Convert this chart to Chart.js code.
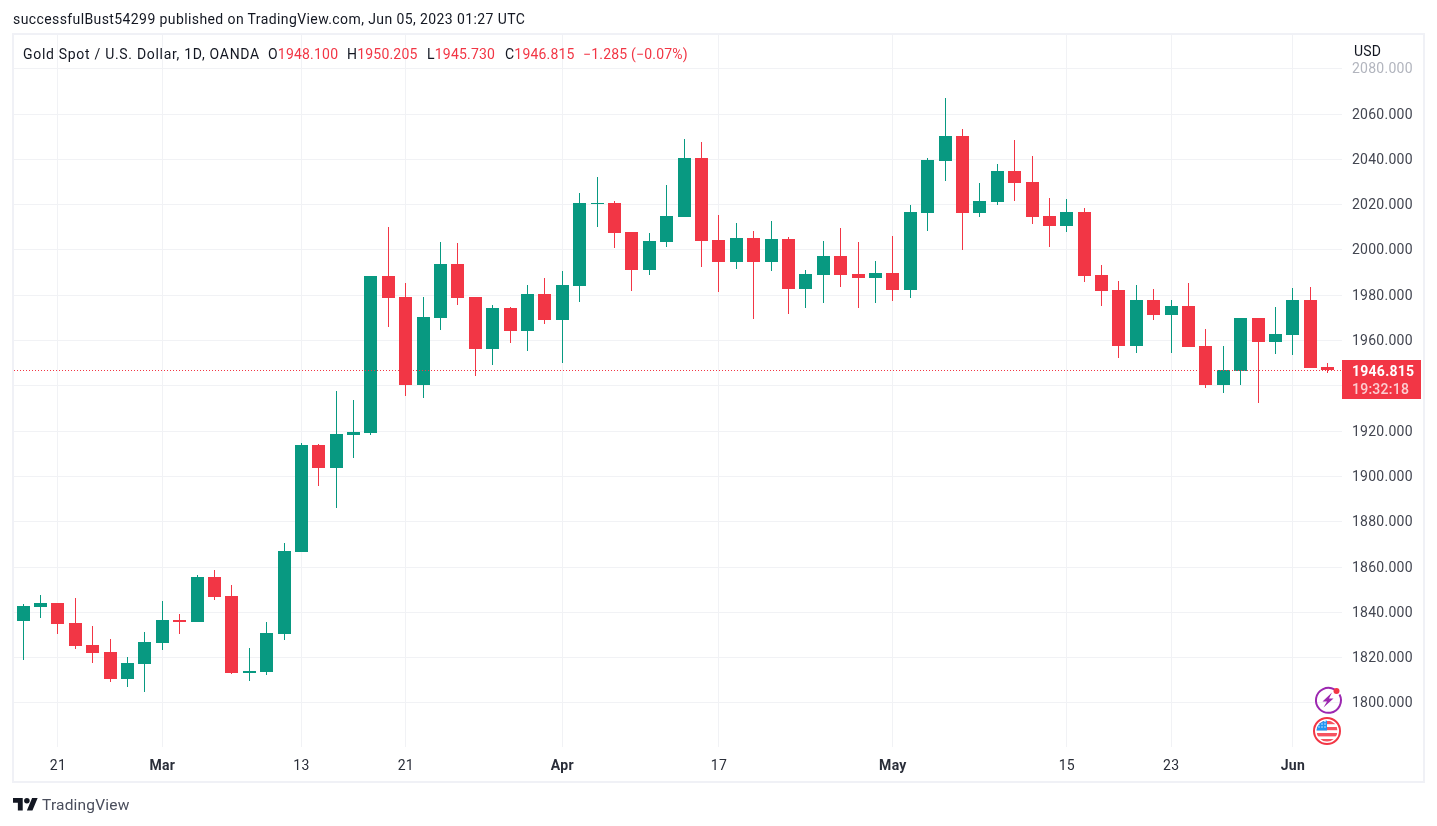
<!DOCTYPE html>
<html>
<head>
<meta charset="utf-8">
<title>Gold Spot / U.S. Dollar</title>
<script src="https://cdn.jsdelivr.net/npm/chart.js@4"></script>
<style>
  html, body { margin: 0; padding: 0; background: #fff; width: 1437px; height: 826px; overflow: hidden; }
  #wrap { position: relative; width: 1437px; height: 826px; font-family: Roboto, sans-serif; font-size: 14px; color: #131722; }
  canvas { position: absolute; left: 0; top: 0; }
  .t { position: absolute; white-space: nowrap; line-height: 18px; letter-spacing: 0.2px; }
  .r { color: #F23645; }
  #frame { position: absolute; left: 12px; top: 33px; width: 1409px; height: 746px; border: 2px solid #f0f1f6; }
  svg { position: absolute; overflow: visible; }
</style>
</head>
<body>
<div id="wrap">
  <div id="frame"></div>
  <canvas id="c" width="1437" height="826"></canvas>
  <div class="t" style="left:13px;top:10px;letter-spacing:0.4px">successfulBust54299 published on TradingView.com, Jun 05, 2023 01:27 UTC</div>
  <div class="t" style="left:23px;top:45px;letter-spacing:0.7px">Gold Spot / U.S. Dollar, 1D, OANDA</div>
  <div class="t" style="left:268px;top:45px">O<span class="r">1948.100</span></div>
  <div class="t" style="left:347px;top:45px">H<span class="r">1950.205</span></div>
  <div class="t" style="left:427px;top:45px">L<span class="r">1945.730</span></div>
  <div class="t" style="left:505px;top:45px">C<span class="r">1946.815</span></div>
  <div class="t r" style="left:583px;top:45px">−1.285 (−0.07%)</div>
  <div class="t" style="left:1354px;top:42px;color:#131722">USD</div>

  <svg style="left:1313px;top:685px" width="30" height="30" viewBox="0 0 30 30">
    <path d="M21.5 4.4 A12.5 12.5 0 1 0 26.5 9.5" fill="none" stroke="#9C27B0" stroke-width="2"/>
    <path d="M19 7.5 L9.5 16.5 L14 16.5 L10.5 22.5 L20.5 13.5 L16 13.5 Z" fill="#9C27B0"/>
    <circle cx="23.5" cy="6" r="3" fill="#F23645"/>
  </svg>
  <svg style="left:1312px;top:716px" width="30" height="30" viewBox="0 0 30 30">
    <defs><clipPath id="fc"><circle cx="15" cy="15" r="10.5"/></clipPath></defs>
    <circle cx="15" cy="15" r="13" fill="#fff" stroke="#F23645" stroke-width="2"/>
    <g clip-path="url(#fc)">
      <rect x="4" y="4" width="22" height="22" fill="#fff"/>
      <rect x="4" y="5" width="22" height="3.2" fill="#F7525F"/>
      <rect x="4" y="11" width="22" height="3.2" fill="#F7525F"/>
      <rect x="4" y="17" width="22" height="3.4" fill="#F7525F"/>
      <rect x="4" y="23" width="22" height="3.4" fill="#F7525F"/>
      <rect x="4" y="4" width="11" height="10.5" fill="#2196F3"/>
      <g fill="#cfe6fb"><circle cx="7" cy="8" r=".8"/><circle cx="10" cy="8" r=".8"/><circle cx="13" cy="8" r=".8"/><circle cx="7" cy="11" r=".8"/><circle cx="10" cy="11" r=".8"/><circle cx="13" cy="11" r=".8"/><circle cx="10" cy="5.5" r=".8"/><circle cx="13" cy="5.5" r=".8"/></g>
    </g>
  </svg>

  <svg style="left:13px;top:798px" width="25" height="12.5" viewBox="0 4 36 18">
    <path d="M14 22H7V11H0V4h14v18zM28 22h-8l7.5-18h8L28 22z" fill="#131722"/>
    <circle cx="20" cy="8" r="4" fill="#131722"/>
  </svg>
  <div class="t" style="left:42px;top:796px;font-size:15.5px;color:#4a4e5c">TradingView</div>
</div>

<script>
const sessions = ['02-17','02-20','02-21','02-22','02-23','02-24','02-27','02-28',
  '03-01','03-02','03-03','03-06','03-07','03-08','03-09','03-10','03-13','03-14','03-15','03-16','03-17',
  '03-20','03-21','03-22','03-23','03-24','03-27','03-28','03-29','03-30','03-31',
  '04-03','04-04','04-05','04-06','04-10','04-11','04-12','04-13','04-14','04-17','04-18','04-19','04-20','04-21',
  '04-24','04-25','04-26','04-27','04-28','05-01','05-02','05-03','05-04','05-05','05-08','05-09','05-10','05-11','05-12',
  '05-15','05-16','05-17','05-18','05-19','05-22','05-23','05-24','05-25','05-26','05-29','05-30','05-31','06-01','06-02','06-05'];

const opens = [1836.2,1842.3,1844.1,1835.3,1825.6,1822.5,1810.5,1817.2,1826.5,1836.6,1835.8,1855.6,1847.2,1813.2,1813.6,1830.4,
  1866.7,1913.9,1903.7,1918.3,1919.2,1988.5,1979.2,1940.3,1969.9,1993.8,1979.2,1956.2,1974.3,1964.2,1980.5,1969.0,
  1984.1,2020.3,2020.7,2007.9,1991.1,2003.5,2014.5,2040.6,2004.4,1994.6,2005.3,1994.6,2004.8,1982.7,1988.9,1997.3,1989.4,1987.6,
  1989.8,1982.3,2016.3,2039.2,2050.3,2016.3,2021.2,2034.8,2030.0,2015.0,2010.6,2016.7,1988.9,1982.3,1957.6,1977.9,1971.2,1975.2,
  1957.6,1940.3,1946.5,1969.9,1959.3,1962.4,1977.9,1948.1];
const highs = [1843.7,1847.6,1844.1,1846.3,1833.9,1828.2,1820.3,1831.3,1845.0,1839.3,1856.5,1858.7,1852.0,1824.3,1835.8,1870.6,
  1914.7,1914.3,1937.7,1933.7,1988.5,2010.1,1985.4,1979.2,2003.5,2003.0,1979.2,1975.7,1974.8,1984.5,1987.6,1990.7,
  2025.1,2032.2,2021.6,2007.9,2007.5,2028.7,2049.0,2047.6,2015.4,2011.9,2008.3,2012.8,2005.7,1991.1,2003.9,2009.7,2003.5,1995.1,
  2006.1,2019.8,2040.6,2067.1,2053.4,2029.5,2037.9,2048.5,2041.5,2022.9,2022.5,2018.5,1993.3,1986.3,1984.5,1982.7,1977.9,1985.4,
  1965.1,1957.6,1969.9,1969.9,1974.8,1983.2,1983.6,1950.205];
const lows = [1818.9,1837.5,1830.4,1823.8,1817.6,1809.2,1807.0,1804.8,1823.4,1830.4,1835.8,1845.4,1812.8,1809.7,1812.3,1827.8,
  1866.7,1895.8,1886.1,1908.1,1918.3,1966.0,1935.5,1934.6,1964.6,1975.7,1944.3,1949.2,1958.9,1955.4,1967.3,1950.1,
  1977.0,2010.1,2000.8,1981.9,1988.9,2001.3,2014.5,1992.4,1981.4,1991.6,1969.5,1990.7,1971.7,1974.3,1976.6,1983.6,1974.3,1976.6,
  1977.4,1978.8,2008.3,2030.4,1999.9,2014.5,2019.8,2021.6,2011.4,2001.3,2007.9,1985.8,1975.2,1952.3,1954.5,1969.0,1954.5,1957.1,
  1939.0,1936.8,1940.3,1932.4,1954.0,1953.6,1947.9,1945.73];
const closes = [1842.8,1844.1,1834.8,1825.2,1822.0,1810.5,1817.6,1826.9,1836.6,1835.8,1855.6,1846.8,1813.2,1814.1,1830.9,1867.1,
  1913.9,1903.7,1918.7,1919.6,1988.5,1978.8,1940.3,1970.4,1993.8,1978.8,1956.2,1974.3,1964.2,1980.5,1969.0,1984.5,
  2020.7,2020.7,2007.5,1991.1,2003.9,2015.0,2040.6,2003.9,1994.6,2005.3,1994.6,2004.8,1982.7,1989.4,1997.3,1988.9,1987.6,1989.8,
  1982.3,2016.7,2039.7,2050.3,2016.3,2021.6,2034.8,2029.5,2014.5,2010.6,2016.7,1988.5,1981.9,1957.6,1977.9,1971.2,1975.2,1957.1,
  1940.3,1946.9,1969.9,1959.3,1962.9,1977.9,1947.9,1946.815];

const priceTicks = [1800,1820,1840,1860,1880,1900,1920,1940,1960,1980,2000,2020,2040,2060,2080];
const timeTickDates = ['02-21','03-01','03-13','03-21','04-03','04-17','05-01','05-15','05-23','06-01'];
const timeTickLabels = ['21','Mar','13','21','Apr','17','May','15','23','Jun'];
const monthLabels = ['Mar','Apr','May','Jun'];

const lastClose = closes[closes.length - 1];
const countdown = '19:32:18';
const UP = '#089981', DOWN = '#F23645', GRID = '#f1f2f5';
const timeTickIndex = timeTickDates.map(d => sessions.indexOf(d));
const candleColor = ctx => {
  const i = ctx.dataIndex;
  return closes[i] >= opens[i] ? UP : DOWN;
};
const xBounds = { min: -0.5231, max: 75.821 };

const snapPlugin = {
  id: 'snap',
  beforeDraw(chart) { chart.ctx.letterSpacing = '0.25px'; },
  beforeDatasetsDraw(chart) {
    chart.data.datasets.forEach((ds, d) => {
      const meta = chart.getDatasetMeta(d);
      meta.data.forEach(el => {
        if (meta.type === 'bar') {
          el.x = Math.floor(el.x) + 0.5;
          el.y = Math.round(el.y);
          el.base = Math.round(el.base);
        } else {
          el.y = Math.floor(el.y) + 0.5;
        }
      });
    });
  }
};
const badgePlugin = {
  id: 'badge',
  afterDraw(chart) {
    const ctx = chart.ctx, y = chart.scales.y.getPixelForValue(lastClose);
    const left = chart.scales.y.left, top = Math.floor(y) - 10;
    ctx.save();
    ctx.fillStyle = DOWN;
    ctx.fillRect(left, top, 79, 39);
    ctx.textBaseline = 'middle';
    ctx.textAlign = 'left';
    ctx.font = 'bold 14px Roboto';
    ctx.fillStyle = '#ffffff';
    ctx.fillText(lastClose.toFixed(3), left + 10, top + 12);
    ctx.font = '500 14px Roboto';
    ctx.fillStyle = 'rgba(255,255,255,0.75)';
    ctx.fillText(countdown, left + 10, top + 30);
    ctx.restore();
  }
};

new Chart(document.getElementById('c'), {
  type: 'bar',
  data: {
    datasets: [
      {
        type: 'line', order: 0,
        data: [{ x: xBounds.min, y: lastClose }, { x: xBounds.max, y: lastClose }],
        borderColor: DOWN, borderWidth: 1, borderDash: [1, 2], pointRadius: 0, fill: false
      },
      {
        order: 1, grouped: false, barThickness: 13, inflateAmount: 0, borderWidth: 0,
        backgroundColor: candleColor,
        data: sessions.map((s, i) => ({ x: i, y: [opens[i], closes[i]] }))
      },
      {
        order: 2, grouped: false, barThickness: 1, inflateAmount: 0, borderWidth: 0,
        backgroundColor: candleColor,
        data: sessions.map((s, i) => ({ x: i, y: [lows[i], highs[i]] }))
      }
    ]
  },
  plugins: [snapPlugin, badgePlugin],
  options: {
    responsive: false,
    animation: false,
    devicePixelRatio: 1,
    layout: { padding: { left: 14, top: 35, right: 12, bottom: 44 } },
    plugins: { legend: { display: false }, tooltip: { enabled: false } },
    scales: {
      x: {
        type: 'linear',
        offset: false,
        min: xBounds.min, max: xBounds.max,
        afterBuildTicks(a) { a.ticks = timeTickIndex.map(v => ({ value: v })); },
        afterFit(a) { a.height = 35; },
        grid: { color: GRID, lineWidth: 1, drawTicks: false, offset: false },
        border: { display: false },
        ticks: {
          autoSkip: false, maxRotation: 0, padding: 11, color: '#2a2e39',
          font: ctx => monthLabels.includes(timeTickLabels[timeTickIndex.indexOf(ctx.tick && ctx.tick.value)])
            ? { family: 'Roboto', size: 14, weight: 'bold' } : { family: 'Roboto', size: 14 },
          callback: v => timeTickLabels[timeTickIndex.indexOf(v)]
        }
      },
      y: {
        position: 'right',
        min: 1780.53, max: 2094.88,
        afterBuildTicks(a) { a.ticks = priceTicks.map(v => ({ value: v })); },
        afterFit(a) { a.width = 83; },
        grid: { color: GRID, lineWidth: 1, drawTicks: false },
        border: { display: false },
        ticks: {
          padding: 10, autoSkip: false, labelOffset: 1,
          color: ctx => ctx.tick && ctx.tick.value === 2080 ? '#b2b5be' : '#434651',
          font: { family: 'Roboto', size: 14 },
          callback: v => Number(v).toFixed(3)
        }
      }
    }
  }
});
</script>
</body>
</html>
